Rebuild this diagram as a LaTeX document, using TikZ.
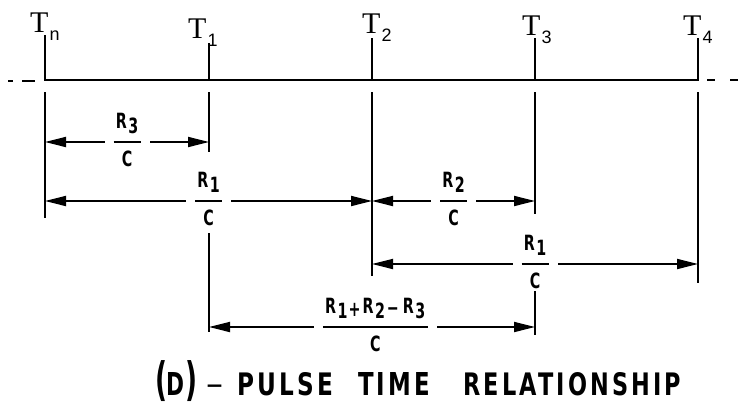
\documentclass[tikz,border=0pt]{standalone}
\usepackage{fontspec}
\usepackage{graphicx}
\usetikzlibrary{arrows.meta}
\setmainfont{Liberation Serif}
\newfontfamily\subfnt{Liberation Sans}
\newfontfamily\lblfnt[FakeStretch=0.68]{DejaVu Sans}
\newfontfamily\capfnt[LetterSpace=14]{DejaVu Sans}
\newcommand{\lblf}{\lblfnt\bfseries\fontsize{21}{21}\selectfont}
\newcommand{\capf}{\capfnt\bfseries}
\newcommand{\Rsub}[1]{R\kern1.5pt\raisebox{-5pt}{#1}}
\newcommand{\Tlab}[1]{\fontsize{30}{30}\selectfont T\kern1pt\raisebox{-8pt}{\subfnt\fontsize{18}{18}\selectfont #1}}
\tikzset{
  tline/.style={line width=1.8pt},
  dashline/.style={line width=1.8pt},
  dim/.style={line width=1.8pt,{Triangle[length=21pt,width=10pt]}-{Triangle[length=21pt,width=10pt]}},
  tlabel/.style={anchor=base west,inner sep=0pt},
  fracbar/.style={fill=white,inner xsep=9pt,inner ysep=1pt,outer sep=0pt},
  numlbl/.style={font=\lblf,inner sep=0pt,label distance=6pt},
  denlbl/.style={font=\lblf,inner sep=0pt,label distance=6pt},
  capword/.style={anchor=base west,inner sep=0pt}
}
\begin{document}
\begin{tikzpicture}[x=1pt,y=-1pt]
\path[use as bounding box] (0,0) rectangle (738,407);
% time labels
\node[tlabel] (L0) at (30,32) {\Tlab{n}};
\node[tlabel] (L1) at (188,38) {\Tlab{1}};
\node[tlabel] (L2) at (362,33) {\Tlab{2}};
\node[tlabel] (L3) at (522,35) {\Tlab{3}};
\node[tlabel] (L4) at (683,35) {\Tlab{4}};
% axis coordinates
\coordinate (t0u) at (45,35);  \coordinate (t0a) at (45,80);
\coordinate (t1u) at (209,43); \coordinate (t1a) at (209,80);
\coordinate (t2u) at (372,38); \coordinate (t2a) at (372,80);
\coordinate (t3u) at (535,38); \coordinate (t3a) at (535,80);
\coordinate (t4u) at (698,38); \coordinate (t4a) at (698,80);
\draw[tline] (t0u) -- (t0a) -- (t4a) -- (t4u);
\draw[tline] (t1u) -- (t1a);
\draw[tline] (t2u) -- (t2a);
\draw[tline] (t3u) -- (t3a);
% dashed continuations
\coordinate (dl1) at (8,81);  \coordinate (dl2) at (13,81);
\coordinate (dl3) at (22,81); \coordinate (dl4) at (35,81);
\coordinate (dr1) at (707,80); \coordinate (dr2) at (715,80);
\coordinate (dr3) at (730,80); \coordinate (dr4) at (738,80);
\draw[dashline] (dl1) -- (dl2);
\draw[dashline] (dl3) -- (dl4);
\draw[dashline] (dr1) -- (dr2);
\draw[dashline] (dr3) -- (dr4);
% vertical extension lines below axis
\coordinate (v0a) at (45,92);  \coordinate (v0b) at (45,218);
\coordinate (v1a) at (209,92); \coordinate (v1b) at (209,152);
\coordinate (v1c) at (209,233); \coordinate (v1d) at (209,332);
\coordinate (v2a) at (372,92); \coordinate (v2b) at (372,276);
\coordinate (v3a) at (535,92); \coordinate (v3b) at (535,214);
\coordinate (v3c) at (535,291); \coordinate (v3d) at (535,335);
\coordinate (v4a) at (698,92); \coordinate (v4b) at (698,283);
\draw[tline] (v0a) -- (v0b);
\draw[tline] (v1a) -- (v1b);
\draw[tline] (v1c) -- (v1d);
\draw[tline] (v2a) -- (v2b);
\draw[tline] (v3a) -- (v3b);
\draw[tline] (v3c) -- (v3d);
\draw[tline] (v4a) -- (v4b);
% dimension arrows
\coordinate (a1l) at (45,142);  \coordinate (a1r) at (209,142);
\coordinate (a2l) at (45,201);  \coordinate (a2r) at (372,201);
\coordinate (a3l) at (372,201); \coordinate (a3r) at (535,201);
\coordinate (a4l) at (372,264); \coordinate (a4r) at (698,264);
\coordinate (a5l) at (209,327); \coordinate (a5r) at (535,327);
\draw[dim] (a1l) -- (a1r) node[midway,fracbar,label={[numlbl]above:{\Rsub{3}}},label={[denlbl]below:C}] (f1) {\rule{27pt}{1.6pt}};
\draw[dim] (a2l) -- (a2r) node[midway,fracbar,label={[numlbl]above:{\Rsub{1}}},label={[denlbl]below:C}] (f2) {\rule{27pt}{1.6pt}};
\draw[dim] (a3l) -- (a3r) node[midway,fracbar,label={[numlbl]above:{\Rsub{2}}},label={[denlbl]below:C}] (f3) {\rule{27pt}{1.6pt}};
\draw[dim] (a4l) -- (a4r) node[midway,fracbar,label={[numlbl]above:{\Rsub{1}}},label={[denlbl]below:C}] (f4) {\rule{27pt}{1.6pt}};
\draw[dim] (a5l) -- (a5r) node[pos=0.51,fracbar,label={[numlbl]above:{\Rsub{1}\kern1pt\raisebox{-3pt}{+}\kern2pt\Rsub{2}\kern2pt\raisebox{-2pt}{\textminus}\kern4pt\Rsub{3}}},label={[denlbl]below:C}] (f5) {\rule{105pt}{1.6pt}};
% caption
\node[capword] (cD) at (155,395) {\capf\resizebox*{12pt}{41pt}{(}\kern-1pt\resizebox{18pt}{23pt}{D}\kern1pt\resizebox*{12pt}{41pt}{)}};
\node[capword] (cdash) at (206,395) {\capfnt\fontsize{34}{34}\selectfont –};
\node[capword] (cw1) at (237,395) {\capf\resizebox{96pt}{23pt}{PULSE}};
\node[capword] (cw2) at (358,395) {\capf\resizebox{72pt}{23pt}{TIME}};
\node[capword] (cw3) at (463,395) {\capf\resizebox{218pt}{23pt}{RELATIONSHIP}};
\end{tikzpicture}
\end{document}
